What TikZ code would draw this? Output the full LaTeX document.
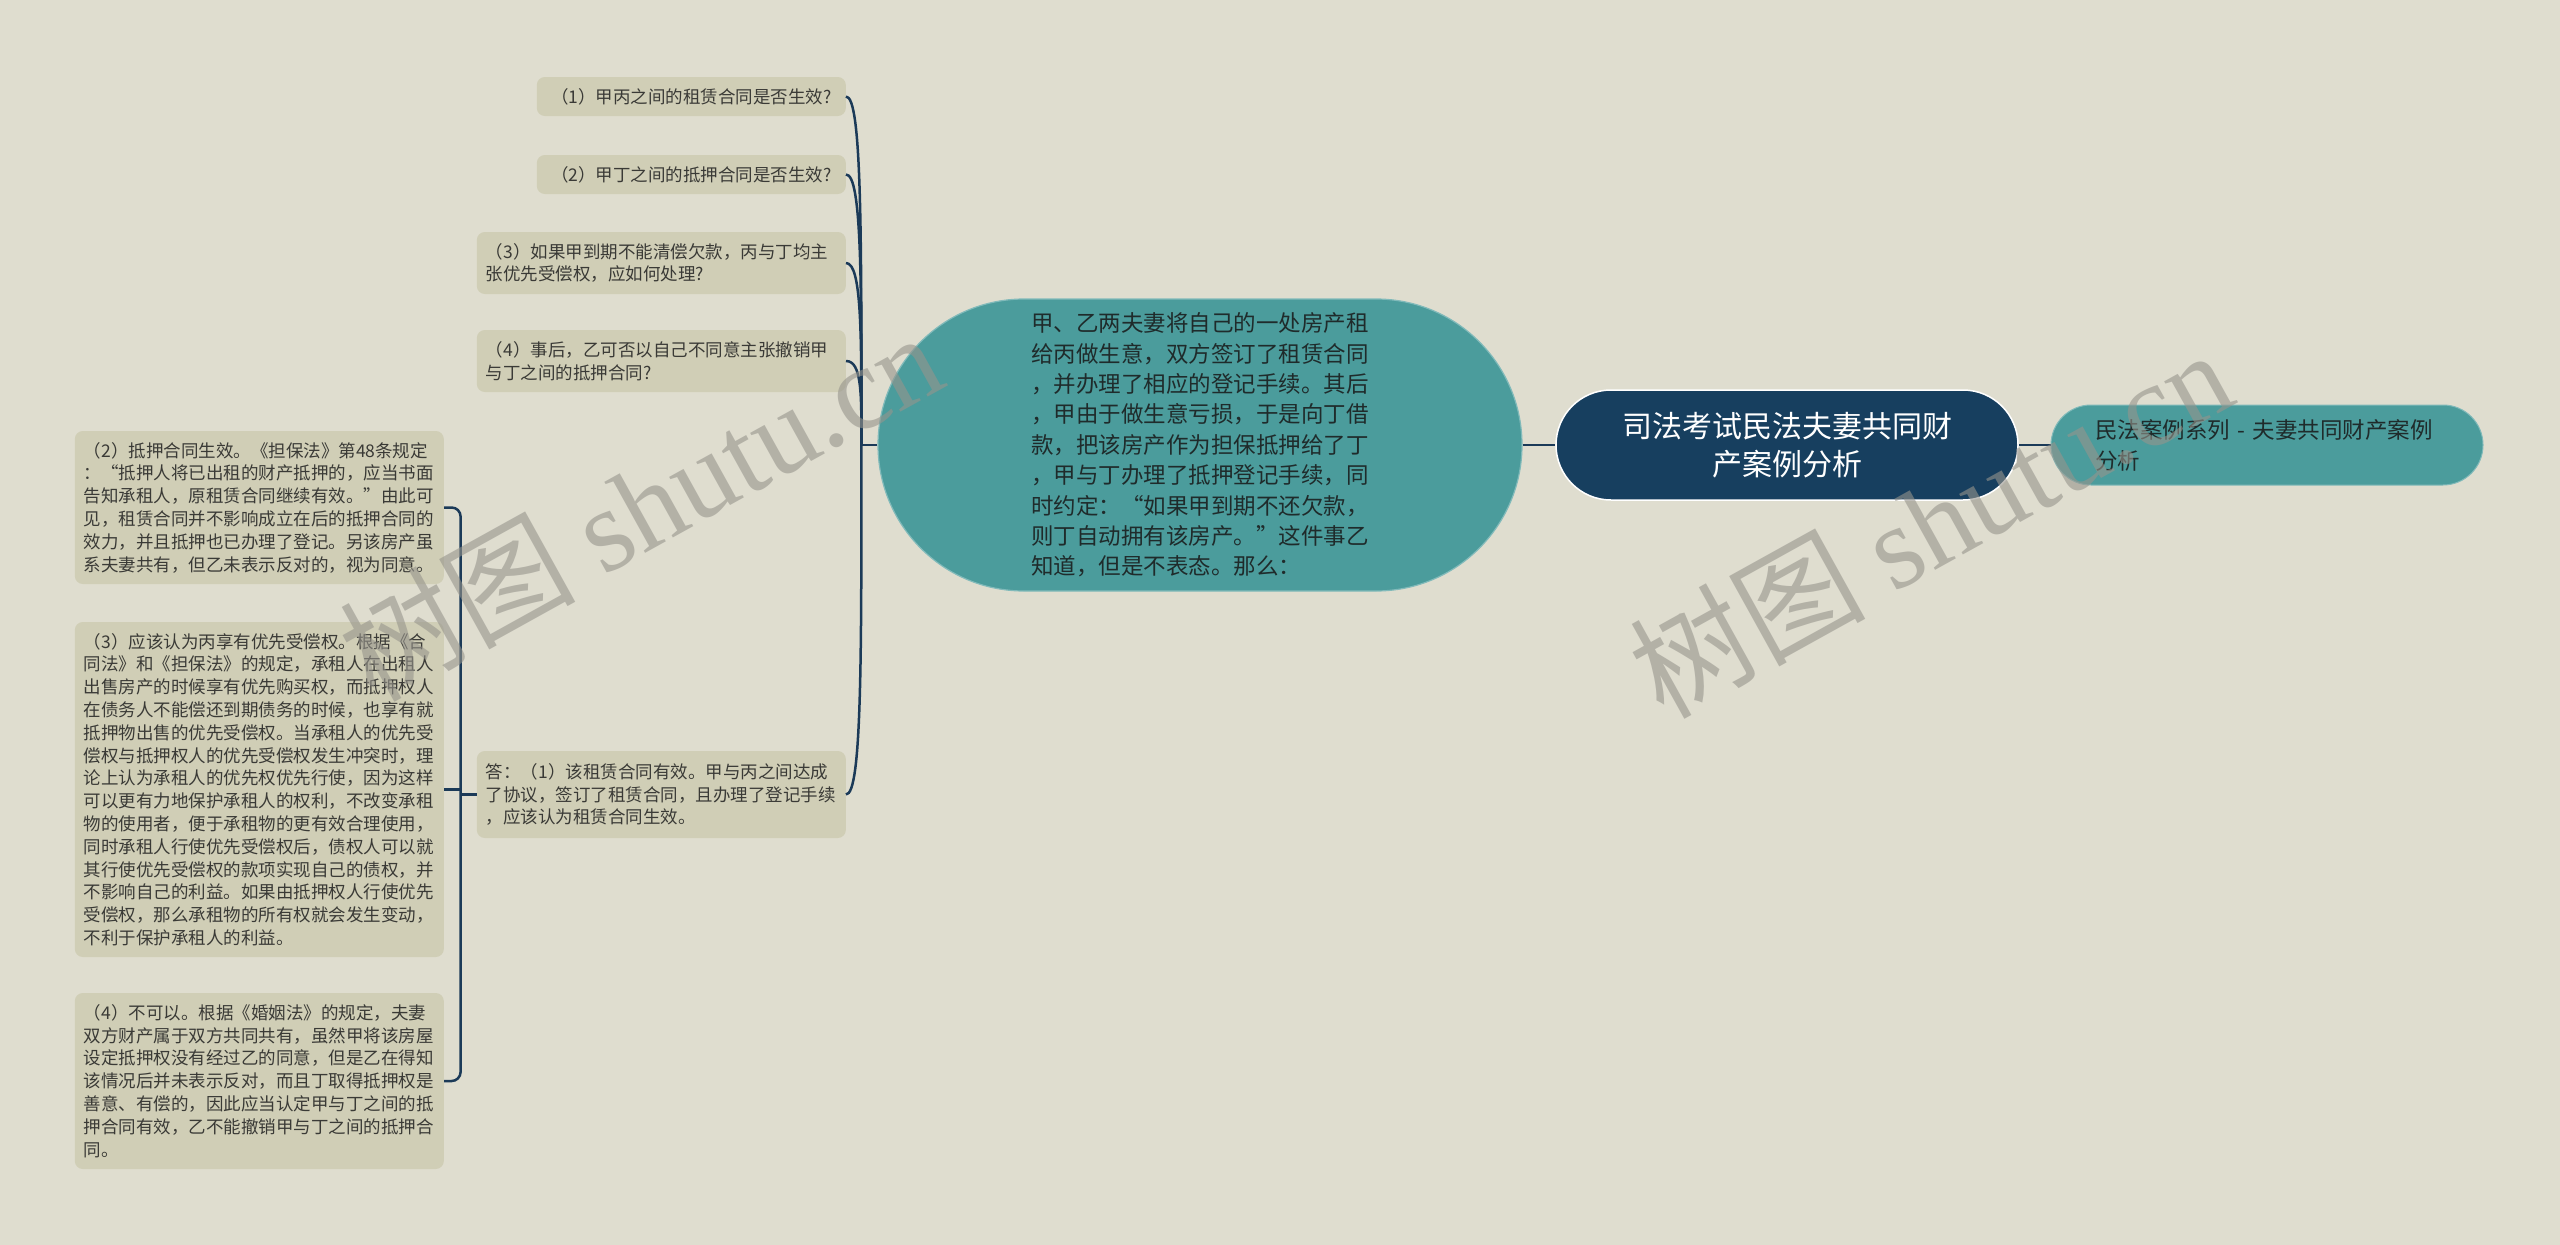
\documentclass[tikz,border=0pt]{standalone}
\usepackage{fontspec}
\setmainfont{Noto Sans CJK SC}
\newfontfamily\wmlatin{Liberation Serif}
\usetikzlibrary{calc}
\definecolor{bg}{HTML}{DFDDCF}
\definecolor{boxc}{HTML}{D0CEB6}
\definecolor{tealc}{HTML}{4B9C9C}
\definecolor{navy}{HTML}{173F5F}
\definecolor{connc}{HTML}{1B3A58}
\definecolor{txt}{HTML}{3A3A36}
\definecolor{ctxt}{HTML}{1F2B2B}
\definecolor{wmc}{RGB}{150,148,140}
\begin{document}
\begin{tikzpicture}[x=1pt,y=-1pt,
  leaf/.style={fill=boxc, rounded corners=8pt, inner xsep=9pt, inner ysep=0pt, text=txt,
    font=\fontsize{17.5pt}{22.8pt}\selectfont, align=left, anchor=east},
  link/.style={draw=connc, line width=2.5pt},
  wm/.style={text=wmc, text opacity=0.6, font=\fontsize{118pt}{120pt}\selectfont, rotate=29, inner sep=0pt}
]
\fill[bg] (0,0) rectangle (2560,1245);
\useasboundingbox (0,0) rectangle (2560,1245);

% main topic nodes
\node[fill=tealc, draw=tealc!70!white, line width=1.2pt, rounded corners=146pt,
  minimum width=644pt, minimum height=292pt, inner sep=0pt, text=ctxt,
  text width=338pt, align=left, font=\fontsize{22.5pt}{30.4pt}\selectfont] (c) at (1200,445)
  {甲、乙两夫妻将自己的一处房产租\\给丙做生意，双方签订了租赁合同\\，并办理了相应的登记手续。其后\\，甲由于做生意亏损，于是向丁借\\款，把该房产作为担保抵押给了丁\\，甲与丁办理了抵押登记手续，同\\时约定：“如果甲到期不还欠款，\\则丁自动拥有该房产。”这件事乙\\知道，但是不表态。那么：};

\node[fill=navy, draw=white, line width=1.5pt, rounded corners=55pt,
  minimum width=462pt, minimum height=110pt, inner sep=0pt, text=white,
  align=center, font=\fontsize{30pt}{37.5pt}\selectfont] (root) at (1787,445)
  {司法考试民法夫妻共同财\\产案例分析};

\node[fill=tealc, draw=tealc!70!white, line width=1pt, rounded corners=40pt,
  minimum width=432pt, minimum height=80pt, inner xsep=44pt, inner ysep=0pt, text=ctxt,
  text width=344pt, align=left, font=\fontsize{22.5pt}{31pt}\selectfont] (side) at (2267,445)
  {民法案例系列 - 夫妻共同财产案例\\分析};

% level 2 nodes
\node[leaf, minimum width=309pt, minimum height=39pt, align=center] (n1) at (846,96.5)
  {（1）甲丙之间的租赁合同是否生效?};
\node[leaf, minimum width=309pt, minimum height=39pt, align=center] (n2) at (846,174.5)
  {（2）甲丁之间的抵押合同是否生效?};
\node[leaf, text width=351pt, minimum height=62pt] (n3) at (846,263)
  {（3）如果甲到期不能清偿欠款，丙与丁均主\\张优先受偿权，应如何处理?};
\node[leaf, text width=351pt, minimum height=62pt] (n4) at (846,361)
  {（4）事后，乙可否以自己不同意主张撤销甲\\与丁之间的抵押合同?};
\node[leaf, text width=351pt, minimum height=87pt] (n5) at (846,794.5)
  {答：（1）该租赁合同有效。甲与丙之间达成\\了协议，签订了租赁合同，且办理了登记手续\\，应该认为租赁合同生效。};

% level 3 nodes
\node[leaf, text width=351pt, minimum height=153pt] (a) at (444,507.5)
  {（2）抵押合同生效。《担保法》第48条规定\\：“抵押人将已出租的财产抵押的，应当书面\\告知承租人，原租赁合同继续有效。”由此可\\见，租赁合同并不影响成立在后的抵押合同的\\效力，并且抵押也已办理了登记。另该房产虽\\系夫妻共有，但乙未表示反对的，视为同意。};
\node[leaf, text width=351pt, minimum height=335pt] (b) at (444,789.5)
  {（3）应该认为丙享有优先受偿权。根据《合\\同法》和《担保法》的规定，承租人在出租人\\出售房产的时候享有优先购买权，而抵押权人\\在债务人不能偿还到期债务的时候，也享有就\\抵押物出售的优先受偿权。当承租人的优先受\\偿权与抵押权人的优先受偿权发生冲突时，理\\论上认为承租人的优先权优先行使，因为这样\\可以更有力地保护承租人的权利，不改变承租\\物的使用者，便于承租物的更有效合理使用，\\同时承租人行使优先受偿权后，债权人可以就\\其行使优先受偿权的款项实现自己的债权，并\\不影响自己的利益。如果由抵押权人行使优先\\受偿权，那么承租物的所有权就会发生变动，\\不利于保护承租人的利益。};
\node[leaf, text width=351pt, minimum height=176pt] (cc) at (444,1081)
  {（4）不可以。根据《婚姻法》的规定，夫妻\\双方财产属于双方共同共有，虽然甲将该房屋\\设定抵押权没有经过乙的同意，但是乙在得知\\该情况后并未表示反对，而且丁取得抵押权是\\善意、有偿的，因此应当认定甲与丁之间的抵\\押合同有效，乙不能撤销甲与丁之间的抵押合\\同。};

% connectors
\draw[link] (c.east) -- (root.west);
\draw[link] (root.east) -- (side.west);
\coordinate (j1) at ($(c.west)+(-16,0)$);
\draw[link] (c.west) -- (j1);
\foreach \n in {n1,n2,n3,n4,n5}
  \draw[link] (\n.east) .. controls +(16,0) and ($(j1)!0.6!(j1 |- \n.east)$) .. (j1);
\coordinate (j2) at ($(n5.west)+(-16,0)$);
\draw[link] (n5.west) -- (j2);
\draw[link, rounded corners=9pt] (a.east) -| (j2) |- (cc.east);
\draw[link] (b.east) -- (b.east -| j2);

% watermarks
\node[wm] (w1) at (640,505) {树图 {\wmlatin shutu.cn}};
\node[wm] (w2) at (1930,522) {树图 {\wmlatin shutu.cn}};
\end{tikzpicture}
\end{document}
